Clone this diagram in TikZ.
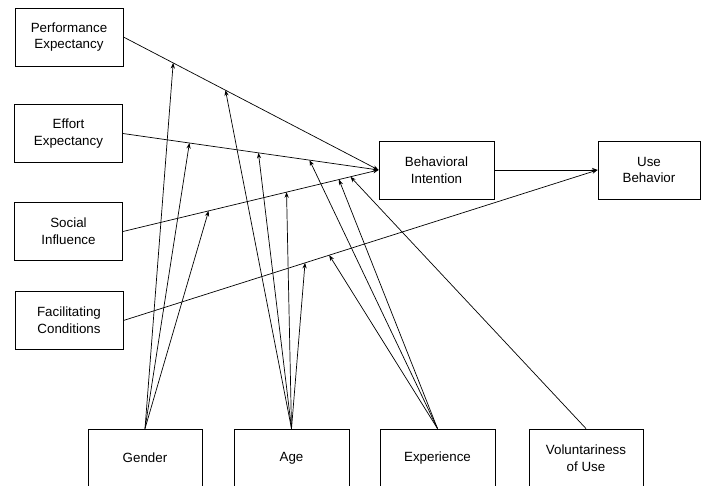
\documentclass[tikz,border=0pt]{standalone}
\usepackage{fontspec}
\setmainfont{Liberation Sans}
\usetikzlibrary{arrows.meta}

\tikzset{
  box/.style={draw, line width=0.6pt, align=center, inner sep=0pt,
    minimum width=2.7cm, minimum height=1.45cm,
    font=\fontsize{9.5}{12}\selectfont},
  link/.style={->, line width=0.5pt},
}

\begin{document}
\begin{tikzpicture}[x=0.025cm, y=-0.025cm, >={Stealth[length=4pt,width=3pt]}]
        \clip (0,0) rectangle (701,485);

        % -- determinants on the left --
        \node[box] (pe) at (69,37)    {Performance\\Expectancy};
        \node[box] (ee) at (68.5,133.5) {Effort\\Expectancy};
        \node[box] (si) at (68.5,231.5) {Social\\Influence};
        \node[box] (fc) at (69,320.5) {Facilitating\\Conditions};

        % -- intention and behaviour --
        \node[box, minimum width=2.875cm] (bi) at (436.5,170) {Behavioral\\Intention};
        \node[box, minimum width=2.55cm]  (ub) at (649,170)   {Use\\Behavior};

        % -- moderators along the bottom --
        \node[box, minimum width=2.85cm]  (gn) at (145,458)   {Gender};
        \node[box, minimum width=2.875cm] (ag) at (291.5,458) {Age};
        \node[box, minimum width=2.875cm] (ex) at (437.5,458) {Experience};
        \node[box, minimum width=2.85cm]  (vu) at (586,458)   {Voluntariness\\of Use};

        % -- main paths --
        \draw[link] (pe.east) -- (bi.west);
        \draw[link] (ee.east) -- (bi.west);
        \draw[link] (si.east) -- (bi.west);
        \draw[link] (fc.east) -- (ub.west);
        \draw[link] (bi.east) -- (ub.west);

        % -- points where the moderators meet the main paths --
        \path (pe.east) -- (bi.west)
            coordinate[pos=0.195] (pe1) coordinate[pos=0.40] (pe2);
        \path (ee.east) -- (bi.west)
            coordinate[pos=0.26] (ee1) coordinate[pos=0.53] (ee2)
            coordinate[pos=0.73] (ee3);
        \path (si.east) -- (bi.west)
            coordinate[pos=0.335] (si1) coordinate[pos=0.64] (si2)
            coordinate[pos=0.845] (si3) coordinate[pos=0.89] (si4);
        \path (fc.east) -- (ub.west)
            coordinate[pos=0.383] (fc1) coordinate[pos=0.434] (fc2);

        % -- Gender --
        \foreach \t in {pe1,ee1,si1}
            \draw[link] (gn.north) -- (\t);
        % -- Age --
        \foreach \t in {pe2,ee2,si2,fc1}
            \draw[link] (ag.north) -- (\t);
        % -- Experience --
        \foreach \t in {ee3,si3,fc2}
            \draw[link] (ex.north) -- (\t);
        % -- Voluntariness of Use --
        \draw[link] (vu.north) -- (si4);

    \end{tikzpicture}
\end{document}
